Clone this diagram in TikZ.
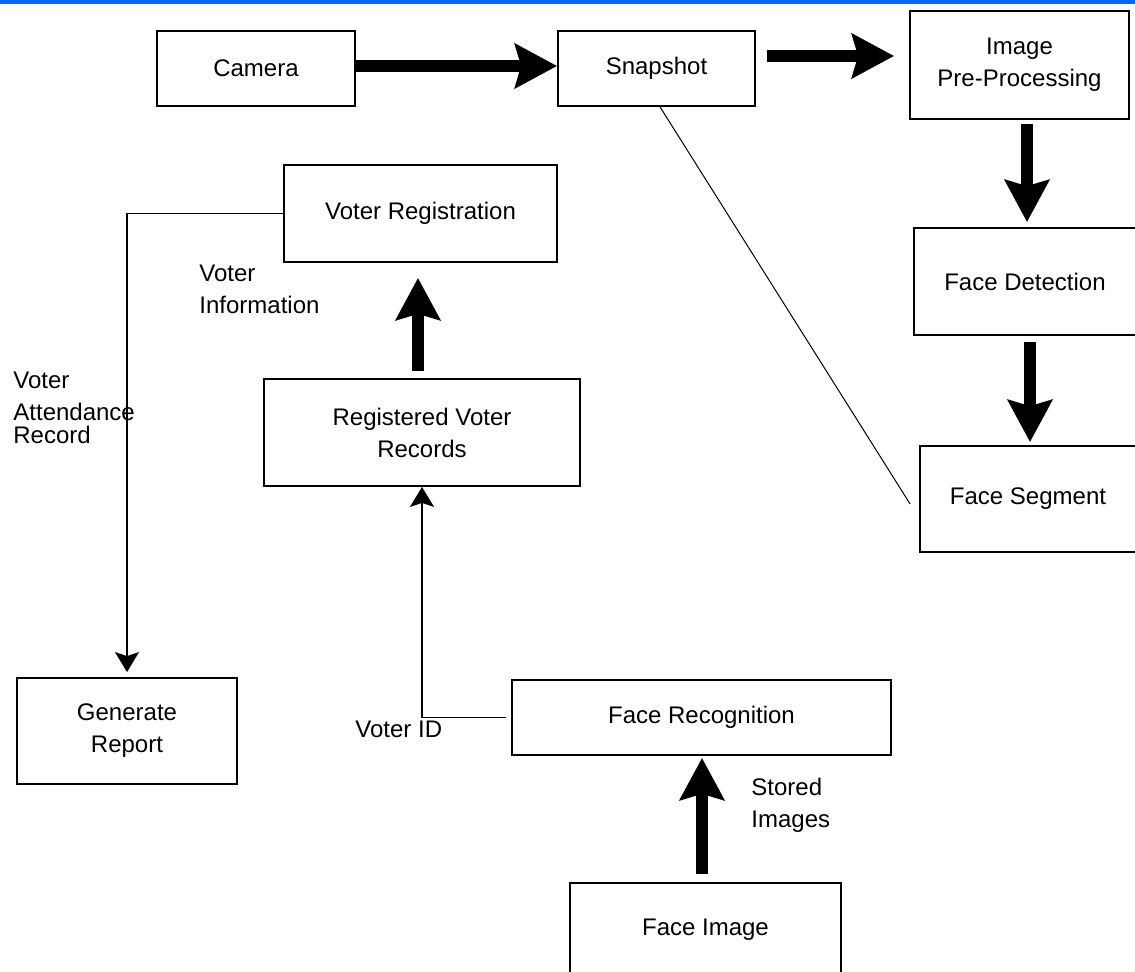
\documentclass[tikz,border=0pt]{standalone}
\usepackage{fontspec}
\setmainfont{Liberation Sans}
\usepackage{xcolor}
\usetikzlibrary{arrows.meta}
\definecolor{topblue}{HTML}{0066FF}

\begin{document}
\begin{tikzpicture}[x=0.5pt, y=-0.5pt,
    procbox/.style={draw, line width=0.9pt, align=center, inner sep=0pt,
        font=\fontsize{12pt}{16pt}\selectfont},
    bigarrow/.style={line width=6pt, -{Stealth[length=21pt,width=22pt,inset=3pt]}},
    thinarrow/.style={line width=0.7pt, -{Stealth[length=10pt,width=12pt,inset=2pt]}},
    note/.style={align=left, inner sep=0pt, font=\fontsize{12pt}{16pt}\selectfont}]
        % Page frame and top bar
        \useasboundingbox (0,0) rectangle (1135,972);
        \fill[topblue] (0,0) rectangle (1135,4);

        % Capture chain
        \node[procbox, minimum width=99pt, minimum height=37.5pt] (camera) at (256,68.5) {Camera};
        \node[procbox, minimum width=98.5pt, minimum height=37.5pt] (snapshot) at (656.5,68.5) {Snapshot};
        \node[procbox, minimum width=109.5pt, minimum height=54pt] (preproc) at (1019.5,65) {Image\\Pre-Processing};
        \node[procbox, minimum width=111pt, minimum height=53.5pt] (facedet) at (1025,281.5) {Face Detection};
        \node[procbox, minimum width=108pt, minimum height=53pt] (faceseg) at (1028,499) {Face Segment};

        % Voter side
        \node[procbox, minimum width=136.5pt, minimum height=48.5pt] (voterreg) at (420.5,213.5) {Voter Registration};
        \node[procbox, minimum width=158pt, minimum height=53.5pt] (regrec) at (422,432.5) {Registered Voter\\Records};
        \node[procbox, minimum width=110pt, minimum height=53pt] (genrep) at (127,731) {Generate\\Report};
        \node[procbox, minimum width=189.5pt, minimum height=37.5pt] (facerec) at (701.5,717.5) {Face Recognition};
        \node[procbox, minimum width=135.5pt, minimum height=46.5pt] (faceimg) at (705.5,929.5) {Face Image};

        % Thick flow arrows
        \draw[bigarrow] ([yshift=1.25pt]camera.east) -- ([yshift=1.25pt]snapshot.west);
        \draw[bigarrow] ([xshift=5.5pt,yshift=6.25pt]snapshot.east) -- ([xshift=-7.5pt,yshift=4.5pt]preproc.west);
        \draw[bigarrow] ([xshift=3.75pt,yshift=-2pt]preproc.south) -- ([xshift=1pt,yshift=2.5pt]facedet.north);
        \draw[bigarrow] ([xshift=2.5pt,yshift=-3pt]facedet.south) -- ([xshift=1pt,yshift=1.5pt]faceseg.north);
        \draw[bigarrow] ([xshift=-2pt,yshift=3.5pt]regrec.north) -- ([xshift=-1.25pt,yshift=-7.5pt]voterreg.south);
        \draw[bigarrow] ([xshift=-1.75pt,yshift=4pt]faceimg.north) -- ([xshift=0.25pt,yshift=-1pt]facerec.south);

        % Thin links
        \draw[thinarrow] (voterreg.west) -| ([yshift=2.5pt]genrep.north);
        \draw[thinarrow] ([xshift=-2.5pt]facerec.west) -| (regrec.south);
        \draw[line width=0.5pt] ([xshift=1.75pt]snapshot.south) -- ([xshift=-4.5pt,yshift=-2.5pt]faceseg.west);

        % Labels
        \node[note, anchor=west] (infolbl) at (199,289) {Voter\\Information};
        \node[note, anchor=west] (attendlbl) at (13,408) {Voter\\Attendance\\[-4.5pt]Record};
        \node[note, anchor=west] (idlbl) at (355,729) {Voter ID};
        \node[note, anchor=west] (storedlbl) at (751,805) {Stored\\Images};
    \end{tikzpicture}
\end{document}
